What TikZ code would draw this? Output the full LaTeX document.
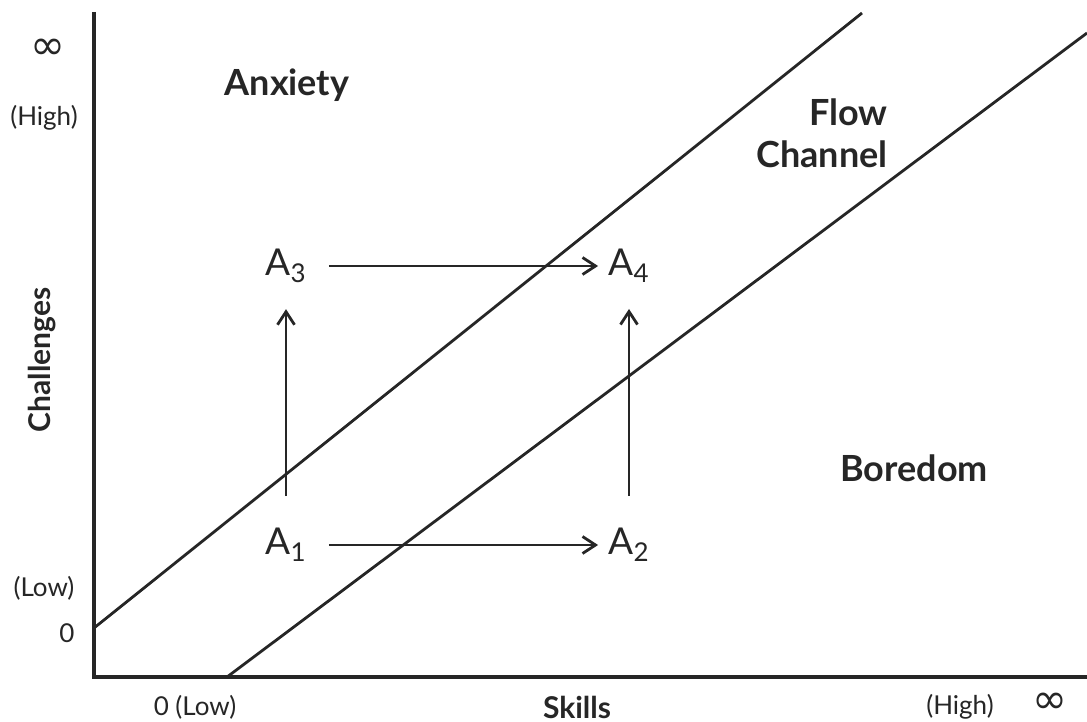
\documentclass[tikz,border=0pt]{standalone}
\usepackage{fontspec}
\setmainfont{Lato}
\newfontfamily\symfont{DejaVu Sans}
\usetikzlibrary{arrows.meta,positioning}

\begin{document}
\begin{tikzpicture}[
    x=0.5pt, y=-0.5pt,
    region/.style={align=right, font=\fontsize{18}{21}\selectfont\bfseries, text=black!85},
    state/.style={inner sep=0pt, font=\fontsize{18.5}{21}\selectfont, text=black!85},
    tick/.style={inner sep=0pt, font=\fontsize{13}{15}\selectfont, text=black!85},
    infty/.style={inner sep=0pt, font=\fontsize{21}{23}\selectfont\symfont, text=black!85},
    axistitle/.style={inner sep=0pt, font=\fontsize{15}{18}\selectfont\bfseries, text=black!85},
    axis/.style={line width=1.7pt, black!85},
    boundary/.style={line width=1.4pt, black!85},
    move/.style={-{Straight Barb[length=6.5pt, width=8.5pt, line width=1.4pt]}, line width=1.4pt, black!85}
]
\useasboundingbox (0,0) rectangle (1087,722);

% axes
\draw[axis] (94,12) -- (94,677) -- (1087,677);

% flow channel boundaries
\draw[boundary] (94,628) -- (862,13);
\draw[boundary] (227,677) -- (1087,33);

% regions
\node[region] (anxiety) at (287,85) {Anxiety};
\node[region] (flow) at (822,133) {Flow\\Channel};
\node[region] (boredom) at (914,468) {Boredom};

% axis labels
\node[infty] (yinf) at (48,49) {∞};
\node[tick] (yhigh) at (44,118) {(High)};
\node[tick] (ylow) at (44,588) {(Low)};
\node[tick] (yzero) at (67,633) {0};
\node[tick] (xlow) at (195,707) {0 (Low)};
\node[tick] (xhigh) at (960,707) {(High)};
\node[infty] (xinf) at (1050,703) {∞};
\node[axistitle] (skills) at (577,707) {Skills};
\node[axistitle, rotate=90] (challenges) at (42,360) {Challenges};

% states
\node[state] (a1) at (286,545) {A\textsubscript{1}};
\node[state] (a2) at (629,545) {A\textsubscript{2}};
\node[state] (a3) at (286,266) {A\textsubscript{3}};
\node[state] (a4) at (629,266) {A\textsubscript{4}};

\draw[move, shorten <=11pt, shorten >=5pt] (a1) -- (a2);
\draw[move, shorten <=11pt, shorten >=5pt] (a3) -- (a4);
\draw[move, shorten <=16pt, shorten >=13pt] (a1) -- (a3);
\draw[move, shorten <=16pt, shorten >=13pt] (a2) -- (a4);
\end{tikzpicture}
\end{document}
